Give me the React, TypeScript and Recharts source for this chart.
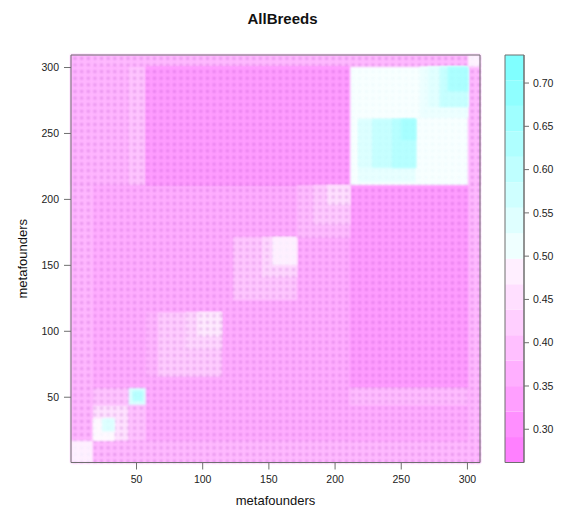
import React from 'react'
import { ReferenceArea, Scatter, ScatterChart, XAxis, YAxis, Label } from 'recharts'

const TITLE = 'AllBreeds'
const AXIS_TITLE = 'metafounders'
const FONT = '"Liberation Sans", Arial, sans-serif'

const indexTicks = [50, 100, 150, 200, 250, 300]
const yTicks = [50, 100, 150, 200, 250, 300]
const keyTicks = [0.3, 0.35, 0.4, 0.45, 0.5, 0.55, 0.6, 0.65, 0.7]

// 16 colour steps of the key, low to high (cm.colors reversed)
const levelColors = [
  '#FF80FF', '#FF8FFF', '#FF9FFF', '#FFAFFF', '#FFBFFF', '#FFCFFF', '#FFDFFF', '#FFEFFF',
  '#EFFFFF', '#DFFFFF', '#CFFFFF', '#BFFFFF', '#AFFFFF', '#9FFFFF', '#8FFFFF', '#80FFFF',
]
const KEY_MIN = 0.2616
const KEY_MID = 0.497
const KEY_MAX = 0.7324

// blocks of the relationship matrix, painted in this order (later ones on top)
const blockX1 = [0.5, 0.5, 300.5, 0.5, 17, 57, 211, 0.5, 44, 57, 211, 211, 300.5,
  57, 66, 87, 96, 123, 145, 152.5, 171.3, 183.4, 194,
  17, 44, 17, 17, 24, 44, 47, 0.5,
  211.5, 217.5, 217.5, 228, 243, 250, 264, 270, 279, 285, 300.5]
const blockX2 = [309.5, 309.5, 309.5, 17, 309.5, 211, 300.5, 44, 57, 211, 300.5, 300.5, 309.5,
  66, 114.5, 114.5, 114.5, 171.3, 171.3, 171.3, 211.4, 211.4, 211.4,
  44, 57, 44, 33.5, 33.5, 57, 55, 17,
  300.5, 261, 261, 261, 261, 261, 300.5, 300.5, 300.5, 300.5, 309.5]
const blockY1 = [0.5, 300.5, 0.5, 0.5, 0.5, 211, 57, 211, 211, 211, 17, 44, 211,
  65.5, 65.5, 86, 96, 123.7, 141, 150, 170.7, 180.5, 195.7,
  44, 17, 17, 17, 24, 44, 47, 0.5,
  211, 213, 224, 224, 224, 245, 262, 270, 270, 282, 300.5]
const blockY2 = [309.5, 309.5, 309.5, 309.5, 17, 300.5, 211, 300.5, 300.5, 300.5, 57, 57, 300.5,
  114.5, 114.5, 114.5, 114.5, 171.5, 171.5, 171.5, 210.8, 210.8, 210.8,
  57, 44, 44, 34, 34, 57, 55, 17,
  300.5, 261, 261, 261, 261, 261, 300.5, 300.5, 300.5, 300.5, 309.5]
const blockValue = [0.347, 0.37, 0.37, 0.365, 0.37, 0.315, 0.315, 0.362, 0.39, 0.315, 0.347, 0.375, 0.37,
  0.365, 0.405, 0.425, 0.46, 0.395, 0.425, 0.47, 0.375, 0.4, 0.44,
  0.39, 0.385, 0.445, 0.485, 0.56, 0.56, 0.63, 0.47,
  0.51, 0.54, 0.56, 0.6, 0.63, 0.66, 0.53, 0.55, 0.6, 0.65, 0.475]

// the image was resampled, so block colours run smoothly along the key's ramp
const heatColor = (v: number) => {
  const hex = (n: number) => Math.round(n).toString(16).padStart(2, '0')
  if (v < KEY_MID) return `#ff${hex(255 - ((KEY_MID - v) / (KEY_MID - KEY_MIN)) * 127)}ff`
  return `#${hex(255 - ((v - KEY_MID) / (KEY_MAX - KEY_MID)) * 127)}ffff`
}

const keyEdge = (i: number) => KEY_MIN + (i * (KEY_MAX - KEY_MIN)) / levelColors.length

const tickStyle = { fontSize: 10.5, fontFamily: FONT, fill: '#222' }
const LINE = '#6f6f6f'

export default function App() {
  return (
    <div style={{ position: 'absolute', left: 0, top: 0, width: 562, height: 508 }}>
      <style>{'.heat .recharts-reference-area { filter: blur(0.8px); }'}</style>
      <div style={{ position: 'absolute', left: 0, width: 565, top: 10, textAlign: 'center', fontFamily: FONT, fontWeight: 'bold', fontSize: 15, lineHeight: '17px', color: '#111' }}>
        {TITLE}
      </div>

      <div className="heat" style={{ position: 'absolute', left: 0, top: 0 }}>
        <ScatterChart width={562} height={508} margin={{ top: 45, right: 52, bottom: 5.5, left: 41 }}>
          <defs>
            <pattern id="dotsPink" patternUnits="userSpaceOnUse" x={85} y={68.4} width={6.62} height={6.6}>
              <circle cx={3.3} cy={3.3} r={1.4} fill="#a030b8" opacity={0.38} />
            </pattern>
            <pattern id="dotsPale" patternUnits="userSpaceOnUse" x={85} y={68.4} width={6.62} height={6.6}>
              <circle cx={3.3} cy={3.3} r={1.4} fill="#60c0d0" opacity={0.08} />
            </pattern>
          </defs>
          <XAxis xAxisId="bottom" type="number" dataKey="x" orientation="bottom" domain={[0.5, 309.5]} ticks={indexTicks}
            height={40} allowDataOverflow interval={0} tickSize={7} tickMargin={6} tick={tickStyle} stroke={LINE}>
            <Label value={AXIS_TITLE} position="insideBottom" offset={-2} style={{ fontSize: 13, fontFamily: FONT, fill: '#111' }} />
          </XAxis>
          <XAxis xAxisId="top" type="number" orientation="top" domain={[0.5, 309.5]} ticks={indexTicks}
            height={10} allowDataOverflow interval={0} tickSize={7} tick={false} stroke={LINE} />
          <YAxis yAxisId="left" type="number" dataKey="y" orientation="left" domain={[0.5, 309.5]} ticks={yTicks}
            width={30} allowDataOverflow interval={0} tickSize={7} tickMargin={5} tick={tickStyle} stroke={LINE}>
            <Label value={AXIS_TITLE} angle={-90} position="insideLeft" offset={-19} style={{ fontSize: 13, fontFamily: FONT, fill: '#111', textAnchor: 'middle' }} />
          </YAxis>
          <YAxis yAxisId="right" type="number" orientation="right" domain={[0.5, 309.5]} ticks={yTicks}
            width={30} allowDataOverflow interval={0} tickSize={7} tick={false} stroke={LINE} />
          <Scatter xAxisId="bottom" yAxisId="left" data={[]} isAnimationActive={false} />
          {blockValue.flatMap((v, i) => {
            const area = { xAxisId: 'bottom', yAxisId: 'left', x1: blockX1[i], x2: blockX2[i], y1: blockY1[i], y2: blockY2[i], fillOpacity: 1, strokeWidth: 0 }
            return [
              <ReferenceArea key={`b-${i}`} {...area} fill={heatColor(v)} />,
              <ReferenceArea key={`d-${i}`} {...area} fill={v < 0.465 ? 'url(#dotsPink)' : 'url(#dotsPale)'} />,
            ]
          })}
        </ScatterChart>
      </div>

      <div style={{ position: 'absolute', left: 480, top: 0 }}>
        <ScatterChart width={82} height={508} margin={{ top: 55, right: 0, bottom: 45.5, left: 25 }}>
          <XAxis type="number" dataKey="x" domain={[0, 1]} hide allowDataOverflow />
          <YAxis type="number" dataKey="y" orientation="right" domain={[KEY_MIN, KEY_MAX]} ticks={keyTicks} width={38}
            allowDataOverflow interval={0} tickSize={5} tickMargin={4} tick={tickStyle} stroke={LINE}
            tickFormatter={(v: number) => v.toFixed(2)} />
          <Scatter data={[]} isAnimationActive={false} />
          {levelColors.map((c, i) => (
            <ReferenceArea key={c} x1={0} x2={1} y1={keyEdge(i)} y2={keyEdge(i + 1)} fill={c} fillOpacity={1} strokeWidth={0} />
          ))}
          <ReferenceArea x1={0} x2={1} y1={KEY_MIN} y2={KEY_MAX} fill="none" stroke={LINE} />
        </ScatterChart>
      </div>
    </div>
  )
}
